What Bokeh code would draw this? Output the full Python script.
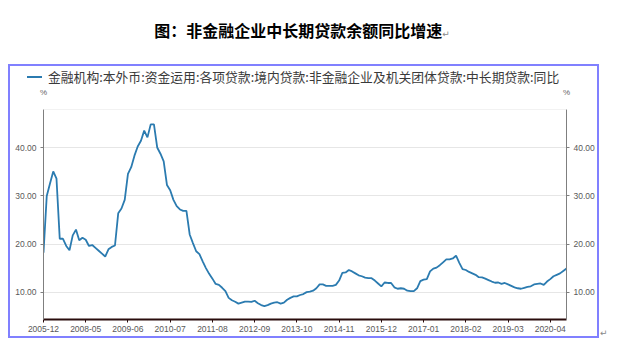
from bokeh.plotting import figure
from bokeh.models import (Range1d, LinearAxis, FixedTicker, PrintfTickFormatter,
                          Span, ColumnDataSource, Div, Spacer)
from bokeh.layouts import column, row
from bokeh.embed import file_html
from bokeh.resources import INLINE

title_text = "图：非金融企业中长期贷款余额同比增速"
series_name = "金融机构:本外币:资金运用:各项贷款:境内贷款:非金融企业及机关团体贷款:中长期贷款:同比"
unit_label = "%"
tick_labels = ["2005-12", "2008-05", "2009-06", "2010-07", "2011-08", "2012-09", "2013-10",
               "2014-11", "2015-12", "2017-01", "2018-02", "2019-03", "2020-04"]
label_step = 13
y_ticks = [10, 20, 30, 40]
values = [
    18.2, 30.0, 32.6, 35.1, 33.6, 21.1, 21.1, 19.6, 18.7, 21.8,
    23.0, 20.8, 21.3, 20.9, 19.6, 19.8, 19.2, 18.6, 18.0, 17.4,
    18.9, 19.4, 19.7, 26.4, 27.4, 29.2, 34.6, 36.0, 38.4, 40.3,
    41.5, 43.6, 42.2, 44.9, 44.9, 40.1, 38.8, 37.2, 32.3, 31.2,
    29.2, 27.9, 27.2, 26.9, 26.9, 22.0, 20.2, 18.5, 17.9, 16.4,
    15.0, 13.8, 12.8, 11.7, 11.5, 10.9, 10.2, 8.8, 8.3, 8.0,
    7.6, 7.8, 8.0, 8.0, 7.95, 8.2, 7.7, 7.3, 7.1, 7.3,
    7.6, 7.8, 7.9, 7.6, 7.8, 8.4, 8.8, 9.1, 9.1, 9.4,
    9.6, 10.0, 10.1, 10.3, 10.8, 11.6, 11.6, 11.3, 11.3, 11.3,
    11.5, 12.4, 14.0, 14.1, 14.6, 14.3, 13.9, 13.5, 13.3, 13.0,
    12.9, 12.9, 12.4, 11.8, 11.2, 12.0, 11.9, 11.9, 11.0, 10.7,
    10.8, 10.7, 10.3, 10.2, 10.2, 10.8, 12.3, 12.6, 12.7, 14.3,
    14.9, 15.1, 15.6, 16.2, 16.8, 16.8, 17.0, 17.6, 16.1, 14.8,
    14.6, 14.2, 13.9, 13.6, 13.1, 13.05, 12.8, 12.5, 12.2, 11.95,
    12.0, 11.7, 11.9, 11.6, 11.3, 11.0, 10.8, 10.7, 10.9, 11.1,
    11.2, 11.6, 11.7, 11.8, 11.5, 12.2, 12.7, 13.3, 13.6, 13.9,
    14.4, 14.9,
]

idx = list(range(len(values)))
src = ColumnDataSource(dict(x=idx, y=values))
x_end = len(values) - 1

LINE_COLOR = "#2b7bb0"
BOX_COLOR = "#8080ff"
INNER_W, INNER_H = 587, 270
LEG_H = 18

# ---------------- main chart ----------------
p = figure(width=INNER_W, height=INNER_H - LEG_H, output_backend="svg", toolbar_location=None,
           x_range=Range1d(0, x_end), y_range=Range1d(4.3, 48),
           min_border_left=33, min_border_right=29, min_border_top=23, min_border_bottom=17,
           margin=(0, 0, 0, 0))
p.outline_line_color = None
p.background_fill_color = "white"
p.border_fill_color = "white"

line = p.line("x", "y", source=src, line_color=LINE_COLOR, line_width=1.8)

lab_font = "Liberation Sans"
lab_col = "#595959"

xt = [i * label_step for i in range(len(tick_labels))]
p.xaxis.ticker = FixedTicker(ticks=xt)
p.xaxis.major_label_overrides = {t: l for t, l in zip(xt, tick_labels)}
p.xaxis.axis_line_color = "#2a0d0d"
p.xaxis.axis_line_width = 2
p.xaxis.major_tick_line_color = "#2a0d0d"
p.xaxis.major_tick_out = 3
p.xaxis.major_tick_in = 0
p.xaxis.minor_tick_line_color = None
p.xaxis.major_label_text_font = lab_font
p.xaxis.major_label_text_font_size = "8.5px"
p.xaxis.major_label_text_color = lab_col
p.xaxis.major_label_standoff = 3
p.xgrid.visible = False

p.yaxis.ticker = FixedTicker(ticks=y_ticks)
p.yaxis.formatter = PrintfTickFormatter(format="%.2f")
ra = LinearAxis(ticker=FixedTicker(ticks=y_ticks), formatter=PrintfTickFormatter(format="%.2f"))
p.add_layout(ra, "right")
for ax in (p.yaxis[0], ra):
    ax.axis_line_color = "#7f7f7f"
    ax.major_tick_line_color = "#7f7f7f"
    ax.major_tick_out = 3
    ax.major_tick_in = 0
    ax.minor_tick_line_color = None
    ax.major_label_text_font = lab_font
    ax.major_label_text_font_size = "8.5px"
    ax.major_label_text_color = lab_col
    ax.major_label_standoff = 4
p.ygrid.ticker = FixedTicker(ticks=y_ticks)
p.ygrid.grid_line_color = "#e6e6e6"
p.ygrid.grid_line_width = 1
p.add_layout(Span(location=p.y_range.end, dimension="width", line_color="#e6e6e6", line_width=1))

# "%" unit marks above both y axes
ua = LinearAxis(ticker=FixedTicker(ticks=[0, x_end]),
                major_label_overrides={0: unit_label, x_end: unit_label})
ua.axis_line_color = None
ua.major_tick_line_color = None
ua.minor_tick_line_color = None
ua.major_tick_out = 0
ua.major_tick_in = 0
ua.major_label_standoff = 13
ua.major_label_text_font = lab_font
ua.major_label_text_font_size = "8px"
ua.major_label_text_color = "#666666"
p.add_layout(ua, "above")

# ---------------- legend strip ----------------
legend_div = Div(text=(f'<div style="display:flex;align-items:center;height:{LEG_H}px;">'
                       f'<span style="display:inline-block;width:15px;height:2px;'
                       f'margin-left:17px;background:{LINE_COLOR}"></span>'
                       f'<span style="margin-left:6px;font-family:\'Noto Sans CJK SC\';'
                       f'font-size:12.8px;line-height:{LEG_H}px;color:#3a3a3a;white-space:nowrap">'
                       f'{series_name}</span></div>'),
                 width=INNER_W, height=LEG_H, margin=(0, 0, 0, 0))

inner = column(legend_div, p, spacing=0, margin=(0, 0, 0, 0))

def bar(w, h):
    return Div(text="", width=w, height=h, margin=(0, 0, 0, 0),
               styles={"background-color": BOX_COLOR})

boxed = column(bar(INNER_W + 4, 2),
               row(bar(2, INNER_H), inner, bar(2, INNER_H), spacing=0, margin=(0, 0, 0, 0)),
               bar(INNER_W + 4, 2),
               spacing=0, margin=(0, 0, 0, 0))

title_div = Div(text=(f'<div style="width:604px;text-align:center;padding-top:19px;'
                      f'font-family:\'Noto Sans CJK SC\';font-weight:bold;font-size:16px;'
                      f'line-height:22px;color:#000">{title_text}'
                      f'<span style="font-family:\'DejaVu Sans\';font-weight:normal;'
                      f'font-size:9px;color:#888">↵</span></div>'),
                width=618, height=64, margin=(0, 0, 0, 0))
mark_div = Div(text=('<div style="padding-top:264px;padding-left:1px;font-family:\'DejaVu Sans\';'
                     'font-size:9px;line-height:10px;color:#888">↵</div>'),
               width=19, height=INNER_H + 4, margin=(0, 0, 0, 0))

layout = column(title_div,
                row(Spacer(width=8, height=INNER_H + 4, margin=(0, 0, 0, 0)), boxed, mark_div,
                    spacing=0, margin=(0, 0, 0, 0)),
                spacing=0, margin=(0, 0, 0, 0))

open("out.html", "w").write(file_html(layout, INLINE))
